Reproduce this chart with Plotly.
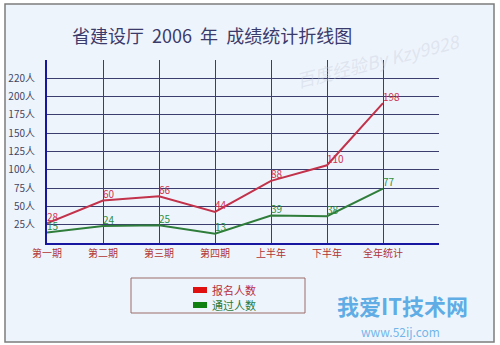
import plotly.graph_objects as go

# ---- data ----
categories = ["第一期", "第二期", "第三期", "第四期", "上半年", "下半年", "全年统计"]
series_names = ["报名人数", "通过人数"]
registered = [28, 60, 66, 44, 88, 110, 198]
passed = [15, 24, 25, 13, 39, 38, 77]
grid_vals = [25, 50, 75, 100, 125, 150, 175, 200, 225]
grid_labels = ["25人", "50人", "75人", "100人", "125人", "150人", "175人", "200人", "220人"]
title_text = "省建设厅  2006  年  成绩统计折线图"

# ---- styles ----
W, H = 500, 345
L, R, T, B = 47, 61, 60, 102
FONT = "Noto Sans CJK SC"
RED_LINE = "#c2324a"
GREEN_LINE = "#2f7d3a"
RED_TXT = "#d0344e"
GREEN_TXT = "#2f8f40"
GRID = "#3a3d6e"
AXIS = "#1616a0"
BG = "#eef4fc"

pw, ph = W - L - R, H - T - B
def px(x):
    return (x - L) / pw
def py(y):
    return (H - B - y) / ph

xs = list(range(len(categories)))

fig = go.Figure()
# invisible helper trace so the labelled grid axis is drawn
fig.add_trace(go.Scatter(x=[0], y=[0], yaxis="y", mode="markers",
                         marker=dict(opacity=0), hoverinfo="skip", showlegend=False))
fig.add_trace(go.Scatter(
    x=xs, y=registered, name=series_names[0], mode="lines+text",
    line=dict(color=RED_LINE, width=2),
    text=[str(v) for v in registered], textposition="top right",
    textfont=dict(color=RED_TXT, size=10, family=FONT),
    cliponaxis=False, yaxis="y2", showlegend=False))
fig.add_trace(go.Scatter(
    x=xs, y=passed, name=series_names[1], mode="lines+text",
    line=dict(color=GREEN_LINE, width=2),
    text=[str(v) for v in passed], textposition="top right",
    textfont=dict(color=GREEN_TXT, size=10, family=FONT),
    cliponaxis=False, yaxis="y2", showlegend=False))

shapes = [
    dict(type="rect", xref="paper", yref="paper", layer="below",
         x0=px(5), x1=px(494), y0=py(342), y1=py(4),
         fillcolor=BG, line=dict(color="#7c7c7c", width=1.5)),
    # legend box
    dict(type="rect", xref="paper", yref="paper",
         x0=px(131), x1=px(305), y0=py(313), y1=py(278),
         fillcolor="rgba(0,0,0,0)", line=dict(color="#9a6a6a", width=1)),
]
annotations = [
    dict(text=title_text, xref="paper", yref="paper", x=px(212), y=py(35),
         showarrow=False, font=dict(size=18, color="#3b3b6b", family=FONT),
         xanchor="center", yanchor="middle"),
    dict(text="<i>百度经验By Kzy9928</i>", xref="paper", yref="paper", x=px(378), y=py(60),
         showarrow=False, textangle=-14, xanchor="center", yanchor="middle",
         font=dict(size=18, color="rgba(200,205,218,0.4)", family=FONT)),
    dict(text="<b>我爱IT技术网</b>", xref="paper", yref="paper", x=px(402), y=py(305),
         showarrow=False, xanchor="center", yanchor="middle",
         font=dict(size=22, color="rgba(70,160,225,0.85)", family=FONT)),
    dict(text="www.52ij.com", xref="paper", yref="paper", x=px(400), y=py(331),
         showarrow=False, xanchor="center", yanchor="middle",
         font=dict(size=12, color="rgba(90,170,230,0.85)", family=FONT)),
]
leg_colors = [("#e01010", "#b83040"), ("#108010", "#2a7a3a")]
for i, name in enumerate(series_names):
    yc = 290 + i * 15
    shapes.append(dict(type="rect", xref="paper", yref="paper",
                       x0=px(193), x1=px(207), y0=py(yc + 3), y1=py(yc - 3),
                       fillcolor=leg_colors[i][0], line=dict(width=0)))
    annotations.append(dict(text=name, xref="paper", yref="paper", x=px(210), y=py(yc),
                            showarrow=False, xanchor="left", yanchor="middle",
                            font=dict(size=11, color=leg_colors[i][1], family=FONT)))

fig.update_layout(
    width=W, height=H, margin=dict(l=L, r=R, t=T, b=B, autoexpand=False),
    paper_bgcolor="white", plot_bgcolor="rgba(0,0,0,0)",
    font=dict(family=FONT),
    xaxis=dict(range=[0, len(categories)], tickvals=list(range(len(categories) + 1)),
               ticktext=categories + [""], showgrid=True, gridcolor=GRID, gridwidth=1,
               showline=True, linecolor=AXIS, linewidth=2, zeroline=False, automargin=False,
               ticks="", tickfont=dict(size=10, color="#b03434", family=FONT)),
    yaxis=dict(range=[0, 250], tickvals=grid_vals, ticktext=grid_labels,
               showgrid=True, gridcolor=GRID, gridwidth=1, zeroline=False,
               showline=True, linecolor=AXIS, linewidth=2,
               ticks="outside", ticklen=8, tickcolor="rgba(0,0,0,0)", automargin=False,
               tickfont=dict(size=10, color="#45455f", family=FONT)),
    yaxis2=dict(range=[0, 259], overlaying="y", side="left", showticklabels=False,
                showgrid=False, zeroline=False, showline=False, ticks="", automargin=False),
    shapes=shapes, annotations=annotations,
)
fig.write_html("out.html")
